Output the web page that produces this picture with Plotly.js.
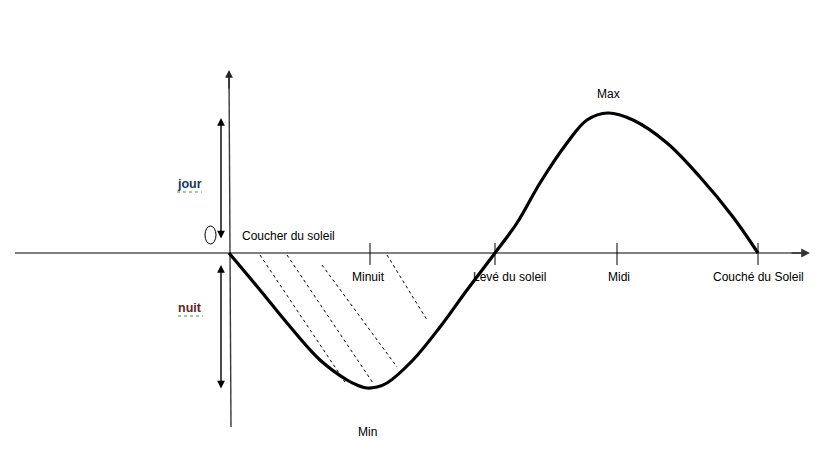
<!DOCTYPE html>
<html>
<head>
<meta charset="utf-8">
<script src="https://cdn.plot.ly/plotly-3.0.1.min.js"></script>
<style>html,body{margin:0;padding:0;background:#fff;}#chart{width:828px;height:452px;}</style>
</head>
<body>
<div id="chart"></div>
<script>
// Temperature-like curve over one day (units: horizontal = time, vertical = level)
const curveX = [0, 31, 58, 91, 118, 128, 138, 148, 158, 184, 211, 238, 266, 288, 311, 338, 358, 379, 404, 438, 471, 504, 529];
const curveY = [0, -37, -70, -107, -127, -132, -135, -134, -130, -107, -74, -37, 0, 30, 70, 110, 133, 140, 133, 110, 76, 36, 0];

// Time marks on the horizontal axis
const tickX = [141, 266, 388, 529];
const tickLabels = ['Minuit', 'Levé du soleil', 'Midi', 'Couché du Soleil'];
const startLabel = 'Coucher du soleil';

// Hatching lines (night zone)
const hatchX0 = [31, 58, 93, 158];
const hatchY0 = [-2, -2, -12, -2];
const hatchX1 = [116, 144, 168, 198];
const hatchY1 = [-129, -130, -114, -67];

// Extremes
const maxPoint = {x: 379, y: 140, label: 'Max'};
const minPoint = {x: 138, y: -135, label: 'Min'};

// Axis extents
const hAxis = {from: -214, to: 581};
const vAxis = {from: -174, to: 183};
const dayArrow = {top: 135, bottom: 13, label: 'jour'};
const nightArrow = {top: -12, bottom: -137, label: 'nuit'};

const FONT = 'Liberation Sans, Arial, sans-serif';
const traces = [];

// horizontal axis line
traces.push({x: [hAxis.from, hAxis.to - 4], y: [0, 0], mode: 'lines',
  line: {color: '#7f7f7f', width: 2}, hoverinfo: 'skip'});
// vertical axis line (slightly tilted as in the drawing)
traces.push({x: [2, 0], y: [vAxis.from, vAxis.to - 4], mode: 'lines',
  line: {color: '#3a3a3a', width: 1.4}, hoverinfo: 'skip'});

// hatching
for (let i = 0; i < hatchX0.length; i++) {
  traces.push({x: [hatchX0[i], hatchX1[i]], y: [hatchY0[i], hatchY1[i]], mode: 'lines',
    line: {color: '#000', width: 1, dash: '3px,3px'}, hoverinfo: 'skip'});
}

// ticks
tickX.forEach(t => {
  traces.push({x: [t, t], y: [10, -12], mode: 'lines',
    line: {color: '#000', width: 1}, hoverinfo: 'skip'});
});

// main curve
traces.push({x: curveX, y: curveY, mode: 'lines',
  line: {color: '#000', width: 3.2, shape: 'spline', smoothing: 1}, hoverinfo: 'skip'});

// spell-check style underlines
traces.push({x: [-52, -27], y: [61, 61], mode: 'lines',
  line: {color: '#3aa02a', width: 1, dash: 'dot'}, hoverinfo: 'skip'});
traces.push({x: [-51, -26], y: [-63, -63], mode: 'lines',
  line: {color: '#3aa02a', width: 1, dash: 'dot'}, hoverinfo: 'skip'});

const ann = [];
function arrow(x, y, ax, ay, color, width, side) {
  ann.push({x: x, y: y, ax: ax, ay: ay, xref: 'x', yref: 'y', axref: 'x', ayref: 'y',
    text: '', showarrow: true, arrowhead: 2, arrowsize: 1.1, arrowwidth: width,
    arrowcolor: color, arrowside: side || 'end', standoff: 0, startstandoff: 0,
    startarrowhead: 2, startarrowsize: 1.1});
}
arrow(hAxis.to, 0, hAxis.to - 20, 0, '#333', 1.6);
arrow(0, vAxis.to, 0, vAxis.to - 20, '#222', 1.4);
arrow(-8, dayArrow.top, -8, dayArrow.bottom, '#000', 1.4, 'end+start');
arrow(-8, nightArrow.top, -8, nightArrow.bottom, '#000', 1.4, 'end+start');

function label(x, y, text, opts) {
  ann.push(Object.assign({x: x, y: y, xref: 'x', yref: 'y', text: text, showarrow: false,
    font: {family: FONT, size: 12, color: '#000'}, xanchor: 'center', yanchor: 'middle'}, opts || {}));
}
label(11, 17, startLabel, {xanchor: 'left'});
const labelOffset = [-2, 14, 2, 0];
tickX.forEach((t, i) => label(t + labelOffset[i], -24, tickLabels[i]));
label(maxPoint.x, maxPoint.y + 19, maxPoint.label);
label(minPoint.x, minPoint.y - 44, minPoint.label);
label(-40, 69, dayArrow.label, {font: {family: FONT, size: 12.5, color: '#17375e', weight: 'bold'}});
label(-39, -55, nightArrow.label, {font: {family: FONT, size: 12.5, color: '#632523', weight: 'bold'}});

const layout = {
  width: 828, height: 452,
  margin: {l: 0, r: 0, t: 0, b: 0},
  paper_bgcolor: '#fff', plot_bgcolor: '#fff',
  showlegend: false,
  xaxis: {range: [-229, 599], visible: false, fixedrange: true},
  yaxis: {range: [-199, 253], visible: false, fixedrange: true},
  annotations: ann,
  shapes: [{type: 'circle', xref: 'x', yref: 'y', x0: -24, x1: -13, y0: 9, y1: 27,
    line: {color: '#000', width: 1}}]
};

Plotly.newPlot('chart', traces, layout, {displayModeBar: false, staticPlot: true});
</script>
</body>
</html>
